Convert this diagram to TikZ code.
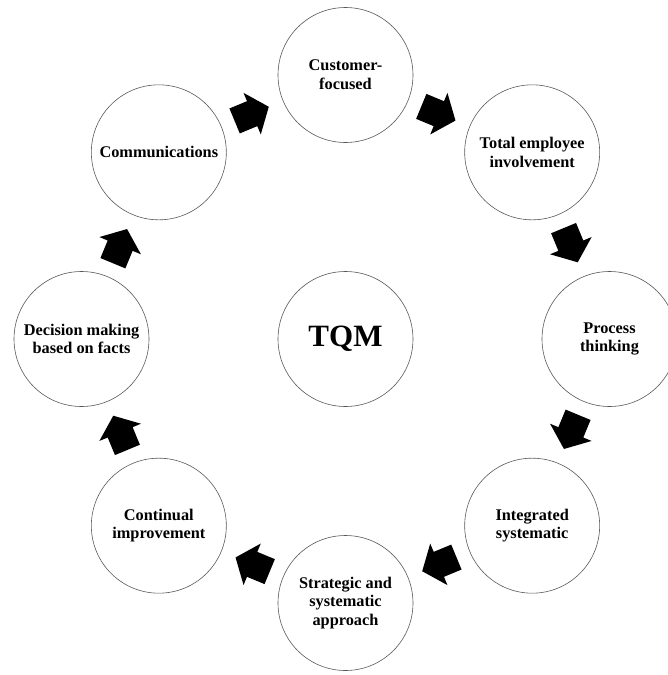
\documentclass[tikz,border=0pt]{standalone}
\usepackage{fontspec}
\setmainfont{Liberation Serif}
\usetikzlibrary{calc}
% block arrow halfway between two stages, turned by the given angle
\newcommand\flowarrow[3]{%
  \fill[blockarrow, shift={($(#1)!0.5!(#2)$)}, rotate=#3]
    (-19,-13.5) -- (0,-13.5) -- (0,-22.5) -- (18,0) -- (0,22.5) -- (0,13.5) -- (-19,13.5) -- cycle;}
\begin{document}
\begin{tikzpicture}[x=1pt, y=1pt,
  stage/.style={circle, draw=black!65, line width=0.6pt, minimum size=135pt,
    inner sep=0pt, align=center, font=\bfseries\fontsize{16.3}{18.7}\selectfont},
  hub/.style={stage, font=\bfseries\fontsize{31}{35}\selectfont},
  blockarrow/.style={fill=black}]
\useasboundingbox (0,0) rectangle (667,-675);
\coordinate (o) at (345.5,-339);
\node[hub] (tqm) at (o) {TQM};
\node[stage] (cust)  at ($(o)+(90:264)$)   {Customer-\\focused};
\node[stage] (total) at ($(o)+(45:264)$)   {Total employee\\involvement};
\node[stage] (proc)  at ($(o)+(0:264)$)    {Process\\thinking};
\node[stage] (integ) at ($(o)+(-45:264)$)  {Integrated\\systematic};
\node[stage] (strat) at ($(o)+(-90:264)$)  {Strategic and\\systematic\\approach};
\node[stage] (cont)  at ($(o)+(-135:264)$) {Continual\\improvement};
\node[stage] (dec)   at ($(o)+(180:264)$)  {Decision making\\based on facts};
\node[stage] (comm)  at ($(o)+(135:264)$)  {Communications};
\flowarrow{comm}{cust}{22.5}
\flowarrow{cust}{total}{-22.5}
\flowarrow{total}{proc}{-67.5}
\flowarrow{proc}{integ}{-112.5}
\flowarrow{integ}{strat}{-157.5}
\flowarrow{strat}{cont}{157.5}
\flowarrow{cont}{dec}{112.5}
\flowarrow{dec}{comm}{67.5}
\end{tikzpicture}
\end{document}
